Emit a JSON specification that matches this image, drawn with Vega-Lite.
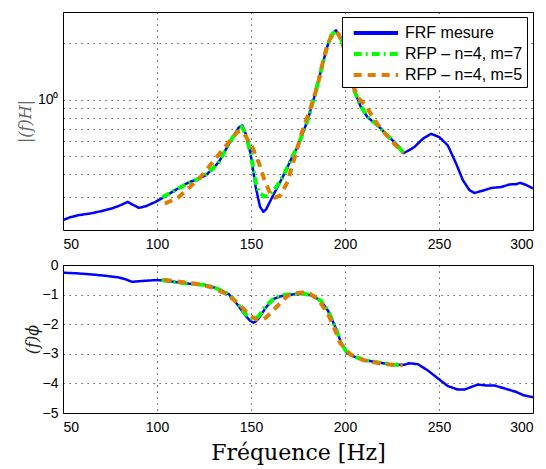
{
  "$schema": "https://vega.github.io/schema/vega-lite/v6.json",
  "padding": {"left": 16, "top": 11, "right": 5, "bottom": 5},
  "bounds": "flush",
  "spacing": 35,
  "config": {
    "view": {"stroke": "black", "strokeWidth": 1},
    "font": "Liberation Sans",
    "axis": {"labelFont": "Liberation Sans", "labelFontSize": 14, "labelColor": "black", "grid": true, "gridDash": [1.2, 4.8], "gridColor": "#000", "gridOpacity": 0.8, "gridWidth": 1, "domain": false, "ticks": false, "labelPadding": 5},
    "line": {"strokeCap": "butt", "strokeJoin": "round"}
  },
  "resolve": {"scale": {"color": "independent", "strokeDash": "independent"}, "legend": {"color": "independent", "strokeDash": "independent"}},
  "datasets": {
    "mag": [
      {"f": 50, "v": 0.226, "s": "FRF mesure"}, {"f": 53.7, "v": 0.234, "s": "FRF mesure"}, {"f": 58, "v": 0.24, "s": "FRF mesure"}, {"f": 64.8, "v": 0.2455, "s": "FRF mesure"}, {"f": 70, "v": 0.252, "s": "FRF mesure"}, {"f": 76, "v": 0.261, "s": "FRF mesure"}, {"f": 80, "v": 0.27, "s": "FRF mesure"}, {"f": 84.4, "v": 0.283, "s": "FRF mesure"}, {"f": 87.5, "v": 0.272, "s": "FRF mesure"}, {"f": 90.3, "v": 0.263, "s": "FRF mesure"}, {"f": 94, "v": 0.268, "s": "FRF mesure"}, {"f": 99.2, "v": 0.283, "s": "FRF mesure"}, {"f": 103, "v": 0.297, "s": "FRF mesure"}, {"f": 108.1, "v": 0.32, "s": "FRF mesure"}, {"f": 112, "v": 0.338, "s": "FRF mesure"}, {"f": 117, "v": 0.361, "s": "FRF mesure"}, {"f": 121, "v": 0.372, "s": "FRF mesure"}, {"f": 125.9, "v": 0.393, "s": "FRF mesure"}, {"f": 129.5, "v": 0.425, "s": "FRF mesure"}, {"f": 132.9, "v": 0.463, "s": "FRF mesure"}, {"f": 135.5, "v": 0.515, "s": "FRF mesure"}, {"f": 138.3, "v": 0.58, "s": "FRF mesure"}, {"f": 141, "v": 0.645, "s": "FRF mesure"}, {"f": 143.6, "v": 0.711, "s": "FRF mesure"}, {"f": 145.4, "v": 0.727, "s": "FRF mesure"}, {"f": 147.2, "v": 0.656, "s": "FRF mesure"}, {"f": 149.8, "v": 0.513, "s": "FRF mesure"}, {"f": 152.5, "v": 0.34, "s": "FRF mesure"}, {"f": 154.8, "v": 0.266, "s": "FRF mesure"}, {"f": 156.6, "v": 0.2505, "s": "FRF mesure"}, {"f": 158, "v": 0.258, "s": "FRF mesure"}, {"f": 159.6, "v": 0.2775, "s": "FRF mesure"}, {"f": 162, "v": 0.31, "s": "FRF mesure"}, {"f": 164.1, "v": 0.34, "s": "FRF mesure"}, {"f": 166.9, "v": 0.385, "s": "FRF mesure"}, {"f": 169.4, "v": 0.435, "s": "FRF mesure"}, {"f": 172, "v": 0.495, "s": "FRF mesure"}, {"f": 174.7, "v": 0.557, "s": "FRF mesure"}, {"f": 177.5, "v": 0.66, "s": "FRF mesure"}, {"f": 180.1, "v": 0.773, "s": "FRF mesure"}, {"f": 183.6, "v": 1.029, "s": "FRF mesure"}, {"f": 187.2, "v": 1.428, "s": "FRF mesure"}, {"f": 190.4, "v": 1.901, "s": "FRF mesure"}, {"f": 192.5, "v": 2.196, "s": "FRF mesure"}, {"f": 195.2, "v": 2.355, "s": "FRF mesure"}, {"f": 197.8, "v": 2.148, "s": "FRF mesure"}, {"f": 199.5, "v": 1.85, "s": "FRF mesure"}, {"f": 201.4, "v": 1.551, "s": "FRF mesure"}, {"f": 204.9, "v": 1.117, "s": "FRF mesure"}, {"f": 208.5, "v": 0.91, "s": "FRF mesure"}, {"f": 212, "v": 0.804, "s": "FRF mesure"}, {"f": 217.4, "v": 0.727, "s": "FRF mesure"}, {"f": 222.7, "v": 0.642, "s": "FRF mesure"}, {"f": 228, "v": 0.568, "s": "FRF mesure"}, {"f": 231.2, "v": 0.517, "s": "FRF mesure"}, {"f": 234, "v": 0.535, "s": "FRF mesure"}, {"f": 236.9, "v": 0.557, "s": "FRF mesure"}, {"f": 241.4, "v": 0.617, "s": "FRF mesure"}, {"f": 245.8, "v": 0.656, "s": "FRF mesure"}, {"f": 250.2, "v": 0.629, "s": "FRF mesure"}, {"f": 252.3, "v": 0.6, "s": "FRF mesure"}, {"f": 254.7, "v": 0.568, "s": "FRF mesure"}, {"f": 259.1, "v": 0.454, "s": "FRF mesure"}, {"f": 262.7, "v": 0.37, "s": "FRF mesure"}, {"f": 266.2, "v": 0.327, "s": "FRF mesure"}, {"f": 268.9, "v": 0.316, "s": "FRF mesure"}, {"f": 274.2, "v": 0.327, "s": "FRF mesure"}, {"f": 277.8, "v": 0.336, "s": "FRF mesure"}, {"f": 283.1, "v": 0.34, "s": "FRF mesure"}, {"f": 287.5, "v": 0.351, "s": "FRF mesure"}, {"f": 291.1, "v": 0.352, "s": "FRF mesure"}, {"f": 293.1, "v": 0.358, "s": "FRF mesure"}, {"f": 296, "v": 0.35, "s": "FRF mesure"}, {"f": 300, "v": 0.334, "s": "FRF mesure"},
      {"f": 102.8, "v": 0.3, "s": "RFP – n=4, m=7"}, {"f": 106, "v": 0.312, "s": "RFP – n=4, m=7"}, {"f": 110, "v": 0.328, "s": "RFP – n=4, m=7"}, {"f": 115, "v": 0.35, "s": "RFP – n=4, m=7"}, {"f": 120, "v": 0.368, "s": "RFP – n=4, m=7"}, {"f": 125, "v": 0.39, "s": "RFP – n=4, m=7"}, {"f": 129.5, "v": 0.425, "s": "RFP – n=4, m=7"}, {"f": 132.9, "v": 0.463, "s": "RFP – n=4, m=7"}, {"f": 135.5, "v": 0.515, "s": "RFP – n=4, m=7"}, {"f": 138.3, "v": 0.58, "s": "RFP – n=4, m=7"}, {"f": 141, "v": 0.645, "s": "RFP – n=4, m=7"}, {"f": 143.6, "v": 0.705, "s": "RFP – n=4, m=7"}, {"f": 145, "v": 0.715, "s": "RFP – n=4, m=7"}, {"f": 147.2, "v": 0.65, "s": "RFP – n=4, m=7"}, {"f": 149.8, "v": 0.515, "s": "RFP – n=4, m=7"}, {"f": 152.5, "v": 0.36, "s": "RFP – n=4, m=7"}, {"f": 154.5, "v": 0.318, "s": "RFP – n=4, m=7"}, {"f": 157, "v": 0.302, "s": "RFP – n=4, m=7"}, {"f": 159.6, "v": 0.306, "s": "RFP – n=4, m=7"}, {"f": 162, "v": 0.325, "s": "RFP – n=4, m=7"}, {"f": 164.1, "v": 0.348, "s": "RFP – n=4, m=7"}, {"f": 166.9, "v": 0.385, "s": "RFP – n=4, m=7"}, {"f": 169.4, "v": 0.435, "s": "RFP – n=4, m=7"}, {"f": 172, "v": 0.495, "s": "RFP – n=4, m=7"}, {"f": 174.7, "v": 0.557, "s": "RFP – n=4, m=7"}, {"f": 177.5, "v": 0.66, "s": "RFP – n=4, m=7"}, {"f": 180.1, "v": 0.773, "s": "RFP – n=4, m=7"}, {"f": 183.6, "v": 1.029, "s": "RFP – n=4, m=7"}, {"f": 187.2, "v": 1.428, "s": "RFP – n=4, m=7"}, {"f": 190.4, "v": 1.901, "s": "RFP – n=4, m=7"}, {"f": 192.5, "v": 2.196, "s": "RFP – n=4, m=7"}, {"f": 195, "v": 2.34, "s": "RFP – n=4, m=7"}, {"f": 197.8, "v": 2.148, "s": "RFP – n=4, m=7"}, {"f": 199.5, "v": 1.85, "s": "RFP – n=4, m=7"}, {"f": 201.4, "v": 1.56, "s": "RFP – n=4, m=7"}, {"f": 204.9, "v": 1.12, "s": "RFP – n=4, m=7"}, {"f": 208.5, "v": 0.92, "s": "RFP – n=4, m=7"}, {"f": 212, "v": 0.81, "s": "RFP – n=4, m=7"}, {"f": 217.4, "v": 0.727, "s": "RFP – n=4, m=7"}, {"f": 222.7, "v": 0.64, "s": "RFP – n=4, m=7"}, {"f": 228, "v": 0.565, "s": "RFP – n=4, m=7"}, {"f": 231.2, "v": 0.517, "s": "RFP – n=4, m=7"},
      {"f": 104.2, "v": 0.277, "s": "RFP – n=4, m=5"}, {"f": 107.5, "v": 0.287, "s": "RFP – n=4, m=5"}, {"f": 111.3, "v": 0.299, "s": "RFP – n=4, m=5"}, {"f": 117.5, "v": 0.34, "s": "RFP – n=4, m=5"}, {"f": 123.7, "v": 0.39, "s": "RFP – n=4, m=5"}, {"f": 129, "v": 0.454, "s": "RFP – n=4, m=5"}, {"f": 134.4, "v": 0.53, "s": "RFP – n=4, m=5"}, {"f": 139.7, "v": 0.617, "s": "RFP – n=4, m=5"}, {"f": 143, "v": 0.675, "s": "RFP – n=4, m=5"}, {"f": 144.5, "v": 0.68, "s": "RFP – n=4, m=5"}, {"f": 146.3, "v": 0.656, "s": "RFP – n=4, m=5"}, {"f": 150.7, "v": 0.557, "s": "RFP – n=4, m=5"}, {"f": 154.3, "v": 0.454, "s": "RFP – n=4, m=5"}, {"f": 156.9, "v": 0.377, "s": "RFP – n=4, m=5"}, {"f": 160.1, "v": 0.316, "s": "RFP – n=4, m=5"}, {"f": 162.8, "v": 0.298, "s": "RFP – n=4, m=5"}, {"f": 165.5, "v": 0.306, "s": "RFP – n=4, m=5"}, {"f": 169.4, "v": 0.362, "s": "RFP – n=4, m=5"}, {"f": 173.8, "v": 0.513, "s": "RFP – n=4, m=5"}, {"f": 177.4, "v": 0.684, "s": "RFP – n=4, m=5"}, {"f": 181.8, "v": 0.91, "s": "RFP – n=4, m=5"}, {"f": 185.4, "v": 1.188, "s": "RFP – n=4, m=5"}, {"f": 188.6, "v": 1.649, "s": "RFP – n=4, m=5"}, {"f": 191, "v": 2.02, "s": "RFP – n=4, m=5"}, {"f": 194.3, "v": 2.315, "s": "RFP – n=4, m=5"}, {"f": 196.5, "v": 2.25, "s": "RFP – n=4, m=5"}, {"f": 199, "v": 1.95, "s": "RFP – n=4, m=5"}, {"f": 202, "v": 1.52, "s": "RFP – n=4, m=5"}, {"f": 204.5, "v": 1.18, "s": "RFP – n=4, m=5"}, {"f": 206.7, "v": 1.029, "s": "RFP – n=4, m=5"}, {"f": 211.2, "v": 0.929, "s": "RFP – n=4, m=5"}, {"f": 214.7, "v": 0.804, "s": "RFP – n=4, m=5"}, {"f": 219.1, "v": 0.698, "s": "RFP – n=4, m=5"}, {"f": 226.2, "v": 0.58, "s": "RFP – n=4, m=5"}, {"f": 231.2, "v": 0.517, "s": "RFP – n=4, m=5"}
    ],
    "phase": [
      {"f": 50, "v": -0.26, "s": "FRF mesure"}, {"f": 57, "v": -0.28, "s": "FRF mesure"}, {"f": 63.6, "v": -0.31, "s": "FRF mesure"}, {"f": 72, "v": -0.36, "s": "FRF mesure"}, {"f": 79.6, "v": -0.42, "s": "FRF mesure"}, {"f": 83.2, "v": -0.48, "s": "FRF mesure"}, {"f": 86.8, "v": -0.57, "s": "FRF mesure"}, {"f": 92.1, "v": -0.54, "s": "FRF mesure"}, {"f": 99.2, "v": -0.51, "s": "FRF mesure"}, {"f": 103, "v": -0.52, "s": "FRF mesure"}, {"f": 108.1, "v": -0.56, "s": "FRF mesure"}, {"f": 117, "v": -0.63, "s": "FRF mesure"}, {"f": 125.9, "v": -0.68, "s": "FRF mesure"}, {"f": 130, "v": -0.75, "s": "FRF mesure"}, {"f": 132.9, "v": -0.82, "s": "FRF mesure"}, {"f": 138.3, "v": -0.99, "s": "FRF mesure"}, {"f": 142.7, "v": -1.33, "s": "FRF mesure"}, {"f": 147.2, "v": -1.72, "s": "FRF mesure"}, {"f": 149.5, "v": -1.88, "s": "FRF mesure"}, {"f": 151.3, "v": -1.95, "s": "FRF mesure"}, {"f": 152.8, "v": -1.9, "s": "FRF mesure"}, {"f": 154.3, "v": -1.78, "s": "FRF mesure"}, {"f": 157.9, "v": -1.44, "s": "FRF mesure"}, {"f": 162.3, "v": -1.14, "s": "FRF mesure"}, {"f": 167.6, "v": -1.02, "s": "FRF mesure"}, {"f": 172.9, "v": -0.99, "s": "FRF mesure"}, {"f": 178.3, "v": -0.97, "s": "FRF mesure"}, {"f": 182.7, "v": -1.04, "s": "FRF mesure"}, {"f": 187.2, "v": -1.21, "s": "FRF mesure"}, {"f": 191, "v": -1.55, "s": "FRF mesure"}, {"f": 194.6, "v": -2.06, "s": "FRF mesure"}, {"f": 197.8, "v": -2.6, "s": "FRF mesure"}, {"f": 201, "v": -2.97, "s": "FRF mesure"}, {"f": 204.9, "v": -3.1, "s": "FRF mesure"}, {"f": 210.2, "v": -3.21, "s": "FRF mesure"}, {"f": 217.4, "v": -3.29, "s": "FRF mesure"}, {"f": 224.5, "v": -3.36, "s": "FRF mesure"}, {"f": 231.6, "v": -3.37, "s": "FRF mesure"}, {"f": 234.2, "v": -3.32, "s": "FRF mesure"}, {"f": 238.7, "v": -3.35, "s": "FRF mesure"}, {"f": 244, "v": -3.56, "s": "FRF mesure"}, {"f": 250.2, "v": -3.87, "s": "FRF mesure"}, {"f": 254.7, "v": -4.09, "s": "FRF mesure"}, {"f": 260, "v": -4.21, "s": "FRF mesure"}, {"f": 263.5, "v": -4.21, "s": "FRF mesure"}, {"f": 267.1, "v": -4.12, "s": "FRF mesure"}, {"f": 270.7, "v": -4.04, "s": "FRF mesure"}, {"f": 275.1, "v": -4.07, "s": "FRF mesure"}, {"f": 279.5, "v": -4.07, "s": "FRF mesure"}, {"f": 284.9, "v": -4.17, "s": "FRF mesure"}, {"f": 291.1, "v": -4.29, "s": "FRF mesure"}, {"f": 295, "v": -4.4, "s": "FRF mesure"}, {"f": 300, "v": -4.47, "s": "FRF mesure"},
      {"f": 102.4, "v": -0.51, "s": "RFP – n=4, m=7"}, {"f": 108, "v": -0.56, "s": "RFP – n=4, m=7"}, {"f": 117, "v": -0.63, "s": "RFP – n=4, m=7"}, {"f": 125.9, "v": -0.68, "s": "RFP – n=4, m=7"}, {"f": 130, "v": -0.75, "s": "RFP – n=4, m=7"}, {"f": 132.9, "v": -0.82, "s": "RFP – n=4, m=7"}, {"f": 138.3, "v": -0.99, "s": "RFP – n=4, m=7"}, {"f": 142.7, "v": -1.3, "s": "RFP – n=4, m=7"}, {"f": 147.2, "v": -1.66, "s": "RFP – n=4, m=7"}, {"f": 150, "v": -1.8, "s": "RFP – n=4, m=7"}, {"f": 151.6, "v": -1.83, "s": "RFP – n=4, m=7"}, {"f": 153.5, "v": -1.76, "s": "RFP – n=4, m=7"}, {"f": 155, "v": -1.65, "s": "RFP – n=4, m=7"}, {"f": 157.9, "v": -1.38, "s": "RFP – n=4, m=7"}, {"f": 162.3, "v": -1.12, "s": "RFP – n=4, m=7"}, {"f": 167.6, "v": -1.01, "s": "RFP – n=4, m=7"}, {"f": 172.9, "v": -0.98, "s": "RFP – n=4, m=7"}, {"f": 178.3, "v": -0.97, "s": "RFP – n=4, m=7"}, {"f": 182.7, "v": -1.04, "s": "RFP – n=4, m=7"}, {"f": 187.2, "v": -1.21, "s": "RFP – n=4, m=7"}, {"f": 191, "v": -1.55, "s": "RFP – n=4, m=7"}, {"f": 194.6, "v": -2.06, "s": "RFP – n=4, m=7"}, {"f": 197.8, "v": -2.6, "s": "RFP – n=4, m=7"}, {"f": 201, "v": -2.97, "s": "RFP – n=4, m=7"}, {"f": 204.9, "v": -3.1, "s": "RFP – n=4, m=7"}, {"f": 210.2, "v": -3.21, "s": "RFP – n=4, m=7"}, {"f": 217.4, "v": -3.29, "s": "RFP – n=4, m=7"}, {"f": 224.5, "v": -3.36, "s": "RFP – n=4, m=7"}, {"f": 230.7, "v": -3.39, "s": "RFP – n=4, m=7"},
      {"f": 103.6, "v": -0.5, "s": "RFP – n=4, m=5"}, {"f": 113.1, "v": -0.57, "s": "RFP – n=4, m=5"}, {"f": 121.4, "v": -0.64, "s": "RFP – n=4, m=5"}, {"f": 129.4, "v": -0.76, "s": "RFP – n=4, m=5"}, {"f": 137.4, "v": -0.99, "s": "RFP – n=4, m=5"}, {"f": 143.6, "v": -1.33, "s": "RFP – n=4, m=5"}, {"f": 149.8, "v": -1.72, "s": "RFP – n=4, m=5"}, {"f": 153, "v": -1.84, "s": "RFP – n=4, m=5"}, {"f": 155.5, "v": -1.86, "s": "RFP – n=4, m=5"}, {"f": 157.9, "v": -1.78, "s": "RFP – n=4, m=5"}, {"f": 163.7, "v": -1.41, "s": "RFP – n=4, m=5"}, {"f": 169.4, "v": -1.04, "s": "RFP – n=4, m=5"}, {"f": 173.5, "v": -0.96, "s": "RFP – n=4, m=5"}, {"f": 177.4, "v": -0.93, "s": "RFP – n=4, m=5"}, {"f": 181.5, "v": -0.98, "s": "RFP – n=4, m=5"}, {"f": 185.7, "v": -1.16, "s": "RFP – n=4, m=5"}, {"f": 191, "v": -1.66, "s": "RFP – n=4, m=5"}, {"f": 194.2, "v": -2.12, "s": "RFP – n=4, m=5"}, {"f": 197.4, "v": -2.63, "s": "RFP – n=4, m=5"}, {"f": 202.8, "v": -3.02, "s": "RFP – n=4, m=5"}, {"f": 210.2, "v": -3.22, "s": "RFP – n=4, m=5"}, {"f": 219.1, "v": -3.33, "s": "RFP – n=4, m=5"}, {"f": 225, "v": -3.37, "s": "RFP – n=4, m=5"}, {"f": 230.7, "v": -3.39, "s": "RFP – n=4, m=5"}
    ]
  },
  "vconcat": [
    {
      "width": 470,
      "height": 218,
      "data": {"name": "mag"},
      "encoding": {
        "x": {"field": "f", "type": "quantitative", "scale": {"domain": [50, 300], "nice": false, "zero": false}, "axis": {"values": [50, 100, 150, 200, 250, 300], "title": null, "labelPadding": 7}},
        "y": {"field": "v", "type": "quantitative", "scale": {"type": "log", "domain": [0.2, 2.95], "nice": false}, "axis": {"values": [0.3, 0.4, 0.5, 0.6, 0.7, 0.8, 0.9, 1, 2], "labelExpr": "datum.value == 1 ? '10⁰' : ''", "title": "|(f)H|", "titleFont": "DejaVu Serif", "titleFontStyle": "italic", "titleFontWeight": "normal", "titleFontSize": 16, "titleColor": "#666666", "titlePadding": 4}},
        "color": {"field": "s", "type": "nominal", "scale": {"domain": ["FRF mesure", "RFP – n=4, m=7", "RFP – n=4, m=5"], "range": ["#0000ff", "#00ff00", "#de7d00"]}, "legend": {"orient": "none", "legendX": 279, "legendY": 5, "title": null, "symbolType": "M-0.43,0H4.0", "symbolSize": 400, "symbolStrokeWidth": 4, "labelFont": "Liberation Sans", "labelFontSize": 16, "labelColor": "black", "fillColor": "white", "strokeColor": "black", "padding": 4, "rowPadding": 1, "labelOffset": 35}},
        "strokeDash": {"field": "s", "type": "nominal", "scale": {"domain": ["FRF mesure", "RFP – n=4, m=7", "RFP – n=4, m=5"], "range": [[1, 0], [8, 4, 2, 4], [8, 6]]}, "legend": {"orient": "none", "legendX": 279, "legendY": 5, "title": null, "symbolType": "M-0.43,0H4.0", "symbolSize": 400, "symbolStrokeWidth": 4, "labelFont": "Liberation Sans", "labelFontSize": 16, "labelColor": "black", "fillColor": "white", "strokeColor": "black", "padding": 4, "rowPadding": 1, "labelOffset": 35}}
      },
      "layer": [
        {"transform": [{"filter": "datum.s == 'FRF mesure'"}], "mark": {"type": "line", "strokeWidth": 2.5}},
        {"transform": [{"filter": "datum.s == 'RFP – n=4, m=7'"}], "mark": {"type": "line", "strokeWidth": 4}},
        {"transform": [{"filter": "datum.s == 'RFP – n=4, m=5'"}], "mark": {"type": "line", "strokeWidth": 4}}
      ]
    },
    {
      "width": 470,
      "height": 148,
      "data": {"name": "phase"},
      "encoding": {
        "x": {"field": "f", "type": "quantitative", "scale": {"domain": [50, 300], "nice": false, "zero": false}, "axis": {"values": [50, 100, 150, 200, 250, 300], "title": "Fréquence [Hz]", "titleFont": "DejaVu Serif", "titleFontSize": 22, "titleFontWeight": "normal", "titleColor": "black", "titlePadding": 8, "labelPadding": 7}},
        "y": {"field": "v", "type": "quantitative", "scale": {"domain": [-5, 0], "nice": false, "zero": false}, "axis": {"values": [-5, -4, -3, -2, -1, 0], "title": "(f)ϕ", "titleFont": "DejaVu Serif", "titleFontStyle": "italic", "titleFontWeight": "normal", "titleFontSize": 16, "titleColor": "#222222", "titlePadding": 2}},
        "color": {"field": "s", "type": "nominal", "scale": {"domain": ["FRF mesure", "RFP – n=4, m=7", "RFP – n=4, m=5"], "range": ["#0000ff", "#00ff00", "#de7d00"]}, "legend": null},
        "strokeDash": {"field": "s", "type": "nominal", "scale": {"domain": ["FRF mesure", "RFP – n=4, m=7", "RFP – n=4, m=5"], "range": [[1, 0], [8, 4, 2, 4], [8, 6]]}, "legend": null}
      },
      "layer": [
        {"transform": [{"filter": "datum.s == 'FRF mesure'"}], "mark": {"type": "line", "strokeWidth": 2.5}},
        {"transform": [{"filter": "datum.s == 'RFP – n=4, m=7'"}], "mark": {"type": "line", "strokeWidth": 4}},
        {"transform": [{"filter": "datum.s == 'RFP – n=4, m=5'"}], "mark": {"type": "line", "strokeWidth": 4}}
      ]
    }
  ]
}
